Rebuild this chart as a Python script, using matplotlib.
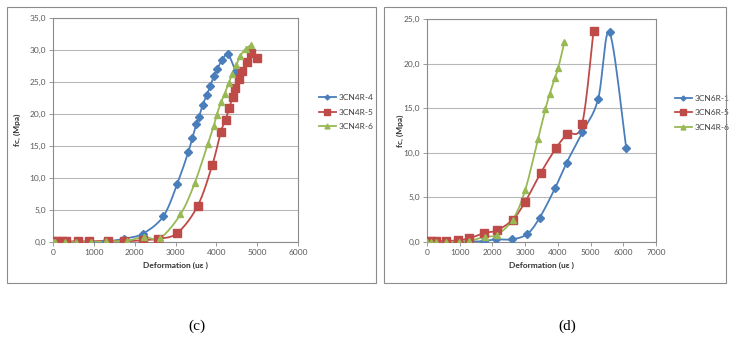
import numpy as np
import matplotlib
matplotlib.use("Agg")
import matplotlib.pyplot as plt
from matplotlib.patches import Rectangle

plt.rcParams['font.family'] = ['Lato', 'DejaVu Sans']

# ---- panel (c) ----
c_names = ['3CN4R-4', '3CN4R-5', '3CN4R-6']
c4_x = [0, 100, 200, 300, 600, 900, 1300, 1740, 2200, 2700, 3045, 3315, 3410, 3510, 3580,
        3665, 3770, 3845, 3940, 4020, 4135, 4285, 4470]
c4_y = [0.0, 0.0, 0.0, 0.0, 0.0, 0.0, 0.1, 0.5, 1.3, 4.0, 9.1, 14.1, 16.2, 18.4, 19.6,
        21.4, 23.0, 24.3, 25.9, 27.0, 28.4, 29.3, 26.7]
c5_x = [0, 100, 220, 310, 600, 870, 1340, 1730, 2215, 2580, 3045, 3540, 3900, 4110, 4225,
        4320, 4400, 4460, 4560, 4640, 4740, 4860, 5000]
c5_y = [0.1, 0.1, 0.1, 0.1, 0.1, 0.1, 0.2, 0.1, 0.3, 0.5, 1.4, 5.6, 12.0, 17.2, 19.1,
        21.0, 22.7, 24.0, 25.5, 26.7, 28.2, 29.6, 28.8]
c6_x = [0, 60, 300, 570, 930, 1300, 1810, 2230, 2620, 3120, 3470, 3790, 3940, 4010, 4120,
        4200, 4300, 4390, 4490, 4590, 4720, 4860]
c6_y = [0.0, 0.0, 0.0, 0.0, 0.0, 0.1, 0.2, 0.8, 0.6, 4.3, 9.2, 15.3, 18.2, 19.9, 21.9,
        23.1, 24.8, 26.2, 27.7, 29.1, 30.2, 30.8]

# ---- panel (d) ----
d_names = ['3CN6R-1', '3CN6R-5', '3CN4R-6']
d1_x = [0, 130, 265, 570, 980, 1290, 1750, 2100, 2600, 3065, 3440, 3910, 4270, 4750, 5230,
        5580, 6090]
d1_y = [0.0, 0.0, 0.0, 0.0, 0.05, 0.05, 0.1, 0.3, 0.3, 0.9, 2.7, 6.0, 8.9, 12.3, 16.0,
        23.5, 10.5]
d5_x = [0, 130, 265, 570, 950, 1280, 1750, 2130, 2620, 3000, 3470, 3940, 4290, 4740, 5090]
d5_y = [0.1, 0.1, 0.1, 0.1, 0.2, 0.4, 1.0, 1.3, 2.5, 4.5, 7.7, 10.5, 12.1, 13.2, 23.7]
d6_x = [0, 130, 265, 570, 980, 1290, 1770, 2130, 2620, 3000, 3390, 3620, 3750, 3910, 4010,
        4200]
d6_y = [0.0, 0.0, 0.0, 0.0, 0.05, 0.1, 0.6, 0.8, 2.5, 5.8, 11.5, 14.9, 16.6, 18.4, 19.5,
        22.4]

colors = ['#4a7ebb', '#be4b48', '#98b954']
markers = ['D', 's', '^']
msizes = [4, 5.5, 5]


def smooth(x, y, n=12):
    # Excel-style smoothed line (Catmull-Rom through the points)
    x = np.asarray(x, float)
    y = np.asarray(y, float)
    px = np.concatenate([[x[0]], x, [x[-1]]])
    py = np.concatenate([[y[0]], y, [y[-1]]])
    xs, ys = [], []
    t = np.linspace(0, 1, n, endpoint=False)
    for i in range(1, len(px) - 2):
        for arr, out in ((px, xs), (py, ys)):
            p0, p1, p2, p3 = arr[i - 1], arr[i], arr[i + 1], arr[i + 2]
            out.extend(0.5 * ((2 * p1) + (-p0 + p2) * t +
                              (2 * p0 - 5 * p1 + 4 * p2 - p3) * t ** 2 +
                              (-p0 + 3 * p1 - 3 * p2 + p3) * t ** 3))
    xs.append(x[-1])
    ys.append(y[-1])
    return xs, ys


fig = plt.figure(figsize=(7.42, 3.52), dpi=100)

# outer chart frames
fig.patches.append(Rectangle((7 / 742, 1 - 283 / 352), 369 / 742, 276 / 352,
                             transform=fig.transFigure, fill=False, ec='#8c8c8c', lw=0.8))
fig.patches.append(Rectangle((384 / 742, 1 - 283 / 352), 342 / 742, 276 / 352,
                             transform=fig.transFigure, fill=False, ec='#8c8c8c', lw=0.8))


def panel(rect, series, names, xmax, xstep, ymax, legend_x, ylpad):
    ax = fig.add_axes(rect)
    for i, (xv, yv) in enumerate(series):
        sx, sy = smooth(xv, yv)
        ax.plot(sx, sy, color=colors[i], lw=1.3, zorder=3)
        ax.plot(xv, yv, ls='none', marker=markers[i], ms=msizes[i], color=colors[i],
                mec=colors[i], zorder=4)
        ax.plot([], [], color=colors[i], lw=1.3, marker=markers[i], ms=msizes[i] - 1.5,
                label=names[i])
    ax.set_xlim(0, xmax)
    ax.set_ylim(0, ymax)
    ax.set_xticks(np.arange(0, xmax + 1, xstep))
    ax.set_yticks(np.arange(0, ymax + 0.1, 5))
    ax.set_yticklabels([f'{v:.1f}'.replace('.', ',') for v in np.arange(0, ymax + 0.1, 5)])
    ax.grid(axis='y', color='#b8b8b8', lw=0.8)
    ax.set_axisbelow(True)
    for s in ax.spines.values():
        s.set_color('#8c8c8c')
        s.set_linewidth(0.8)
    ax.tick_params(labelsize=6, colors='#595959', length=3, width=0.6, pad=2)
    ax.tick_params(axis='both', color='#8c8c8c')
    ax.set_xlabel('Deformation (uε )', fontsize=6, fontweight='bold', color='#333333',
                  labelpad=4)
    ax.set_ylabel('fc, (Mpa)', fontsize=6, fontweight='bold', color='#333333',
                  labelpad=ylpad)
    ax.legend(loc='center left', bbox_to_anchor=legend_x, frameon=False, fontsize=6,
              handlelength=2.0, labelspacing=0.9, handletextpad=0.3,
              labelcolor='#404040', borderaxespad=0, borderpad=0)
    return ax


panel([53 / 742, 110 / 352, 245 / 742, 224 / 352],
      [(c4_x, c4_y), (c5_x, c5_y), (c6_x, c6_y)], c_names, 6000, 1000, 35,
      (1 + 21 / 245, 0.58), 6)
panel([427 / 742, 110 / 352, 229 / 742, 223 / 352],
      [(d1_x, d1_y), (d5_x, d5_y), (d6_x, d6_y)], d_names, 7000, 1000, 25,
      (248 / 229, 0.58), 0)

fig.text(197 / 742, 1 - 326 / 352, '(c)', fontsize=11, family='Liberation Serif',
         ha='center', va='center')
fig.text(567 / 742, 1 - 326 / 352, '(d)', fontsize=11, family='Liberation Serif',
         ha='center', va='center')

fig.savefig('out.png', dpi=100)
